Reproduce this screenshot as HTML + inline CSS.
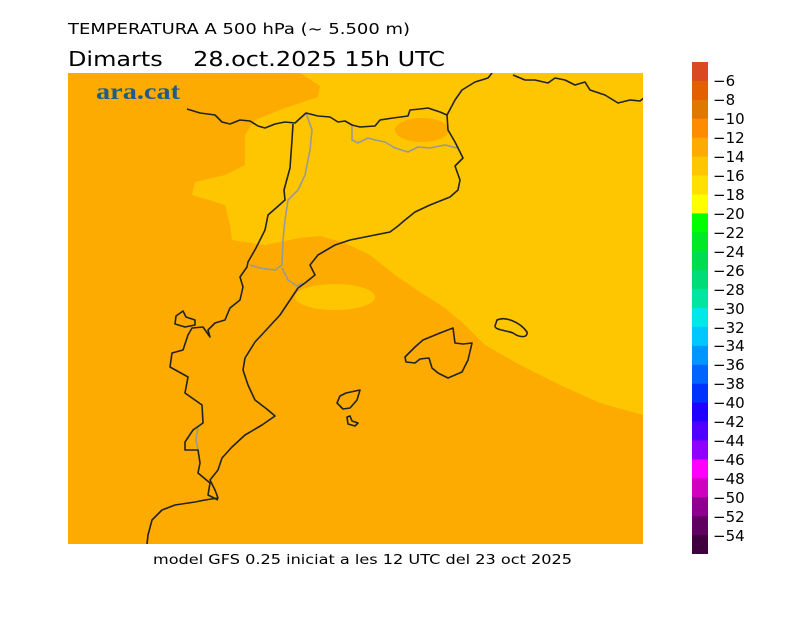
<!DOCTYPE html>
<html><head><meta charset="utf-8"><style>
body{margin:0;background:#fff;width:800px;height:617px;overflow:hidden}
svg{display:block}
text{font-family:"DejaVu Sans","Liberation Sans",sans-serif;fill:#000}
</style></head><body>
<svg width="800" height="617" viewBox="0 0 800 617">
<text x="68" y="34" font-size="15.5" textLength="342" lengthAdjust="spacingAndGlyphs">TEMPERATURA A 500 hPa (~ 5.500 m)</text>
<text x="68" y="66" font-size="20" xml:space="preserve" textLength="377" lengthAdjust="spacingAndGlyphs">Dimarts    28.oct.2025 15h UTC</text>
<defs><clipPath id="c"><rect x="68" y="73" width="575" height="471"/></clipPath></defs>
<g clip-path="url(#c)">
<rect x="68" y="73" width="575" height="471" fill="#fdab00"/>
<path fill="#fdc600" d="M300,73 L320,86 L318,97 L285,108 L255,120 L245,135 L245,165 L225,175 L195,182 L192,195 L225,205 L230,225 L232,240 L265,245 L300,238 L320,236 L345,243 L370,255 L395,275 L420,292 L445,308 L465,325 L485,345 L520,365 L560,385 L600,403 L643,415 L643,73 Z"/>
<ellipse cx="335" cy="297" rx="40" ry="13" fill="#fdc600"/>
<ellipse cx="422" cy="130" rx="27" ry="12" fill="#fdab00"/>
<g fill="none" stroke="#999" stroke-width="1.6">
<path d="M306,113 L312,130 L310,150 L305,175 L298,190 L288,200 L285,220 L283,240 L282,265 L275,270 L260,268 L250,265"/>
<path d="M282,268 L288,280 L297,286 L303,283"/>
<path d="M352,126 L352,140 L358,143 L368,138 L375,140 L385,142 L395,148 L408,152 L418,147 L430,148 L445,145 L457,148"/>
<path d="M198,427 L196,440 L198,450"/>
</g>
<g fill="none" stroke="#222" stroke-width="1.6" stroke-linejoin="round">
<path d="M492,73 L488,78 L475,82 L462,90 L455,100 L447,115 L448,130 L455,142 L463,158 L455,166 L460,180 L458,190 L450,197 L430,205 L415,212 L405,220 L398,226 L390,232 L370,236 L350,240 L335,245 L318,255 L310,265 L315,275 L305,283 L298,288 L290,300 L280,315 L268,328 L255,342 L245,358 L243,370 L248,385 L255,400 L268,410 L275,416 L262,425 L245,435 L232,447 L222,458 L218,470 L210,480 L215,490 L218,498 L205,500 L195,502 L175,505 L162,510 L152,520 L148,535 L147,544"/>
<path d="M187,109 L200,113 L215,115 L222,122 L230,124 L240,120 L250,121 L258,126 L265,128 L275,124 L285,122 L295,123 L306,113 L318,116 L330,117 L338,122 L345,121 L352,125 L360,127 L375,126 L380,120 L393,118 L408,116 L410,110 L420,109 L428,108 L440,112 L447,115"/>
<path d="M513,75 L525,80 L535,80 L548,83 L555,78 L565,80 L575,85 L585,82 L590,90 L605,95 L618,103 L630,100 L640,101 L645,97"/>
<path d="M293,124 L292,140 L290,168 L284,190 L285,200 L276,208 L268,215 L265,230 L260,240 L256,248 L252,255 L248,262 L247,267 L240,277 L243,287 L240,300 L230,308 L225,320 L215,323 L208,330 L210,337 L203,327 L192,328 L188,335 L183,350 L172,353 L170,367 L188,377 L185,393 L202,405 L203,423 L193,430 L185,442 L185,450 L198,450 L200,463 L198,473 L210,483 L208,495 L218,500"/>
<path d="M176,316 L183,311 L186,317 L195,320 L195,325 L185,327 L175,324 Z"/>
<path d="M405,357 L415,347 L423,340 L440,333 L453,328 L455,343 L463,344 L472,343 L468,360 L462,372 L448,378 L438,373 L432,368 L429,358 L420,359 L415,363 L406,362 Z"/>
<path d="M497,320 C505,316 520,322 527,332 C528,338 520,338 513,333 C505,330 495,330 495,326 Z"/>
<path d="M337,403 L340,396 L346,393 L360,390 L357,400 L350,408 L343,409 Z"/>
<path d="M347,417 L350,416 L352,421 L358,423 L355,426 L348,424 Z"/>
</g>
</g>
<text x="96" y="99" font-weight="bold" font-size="23" textLength="84" lengthAdjust="spacingAndGlyphs" style="font-family:'Liberation Serif',serif;fill:#1d5d8c">ara.cat</text>
<text x="153" y="564" font-size="13.5" textLength="419" lengthAdjust="spacingAndGlyphs">model GFS 0.25 iniciat a les 12 UTC del 23 oct 2025</text>
<g>
<rect x="692" y="62.0" width="16" height="19.4" fill="#da4a22"/>
<rect x="692" y="80.9" width="16" height="19.4" fill="#e26000"/>
<rect x="692" y="99.8" width="16" height="19.4" fill="#e07800"/>
<rect x="692" y="118.8" width="16" height="19.4" fill="#ff8c00"/>
<rect x="692" y="137.7" width="16" height="19.4" fill="#fdab00"/>
<rect x="692" y="156.6" width="16" height="19.4" fill="#fdc600"/>
<rect x="692" y="175.5" width="16" height="19.4" fill="#ffe000"/>
<rect x="692" y="194.5" width="16" height="19.4" fill="#ffff00"/>
<rect x="692" y="213.4" width="16" height="19.4" fill="#00ff00"/>
<rect x="692" y="232.3" width="16" height="19.4" fill="#00e826"/>
<rect x="692" y="251.2" width="16" height="19.4" fill="#00dc50"/>
<rect x="692" y="270.2" width="16" height="19.4" fill="#00dc78"/>
<rect x="692" y="289.1" width="16" height="19.4" fill="#00e6a0"/>
<rect x="692" y="308.0" width="16" height="19.4" fill="#00e8e8"/>
<rect x="692" y="326.9" width="16" height="19.4" fill="#00c8ff"/>
<rect x="692" y="345.8" width="16" height="19.4" fill="#0096ff"/>
<rect x="692" y="364.8" width="16" height="19.4" fill="#0064ff"/>
<rect x="692" y="383.7" width="16" height="19.4" fill="#0032ff"/>
<rect x="692" y="402.6" width="16" height="19.4" fill="#2000ff"/>
<rect x="692" y="421.5" width="16" height="19.4" fill="#5000ff"/>
<rect x="692" y="440.5" width="16" height="19.4" fill="#9000ff"/>
<rect x="692" y="459.4" width="16" height="19.4" fill="#ff00ff"/>
<rect x="692" y="478.3" width="16" height="19.4" fill="#d000c0"/>
<rect x="692" y="497.2" width="16" height="19.4" fill="#900090"/>
<rect x="692" y="516.2" width="16" height="19.4" fill="#600060"/>
<rect x="692" y="535.1" width="16" height="18.9" fill="#400040"/>
</g>
<g font-size="15">
<text x="713" y="86">−6</text><text x="713" y="105">−8</text><text x="713" y="124">−10</text><text x="713" y="143">−12</text><text x="713" y="162">−14</text><text x="713" y="181">−16</text><text x="713" y="200">−18</text><text x="713" y="219">−20</text><text x="713" y="238">−22</text><text x="713" y="257">−24</text><text x="713" y="276">−26</text><text x="713" y="295">−28</text><text x="713" y="314">−30</text><text x="713" y="333">−32</text><text x="713" y="351">−34</text><text x="713" y="370">−36</text><text x="713" y="389">−38</text><text x="713" y="408">−40</text><text x="713" y="427">−42</text><text x="713" y="446">−44</text><text x="713" y="465">−46</text><text x="713" y="484">−48</text><text x="713" y="503">−50</text><text x="713" y="522">−52</text><text x="713" y="541">−54</text>
</g>
</svg>
</body></html>
